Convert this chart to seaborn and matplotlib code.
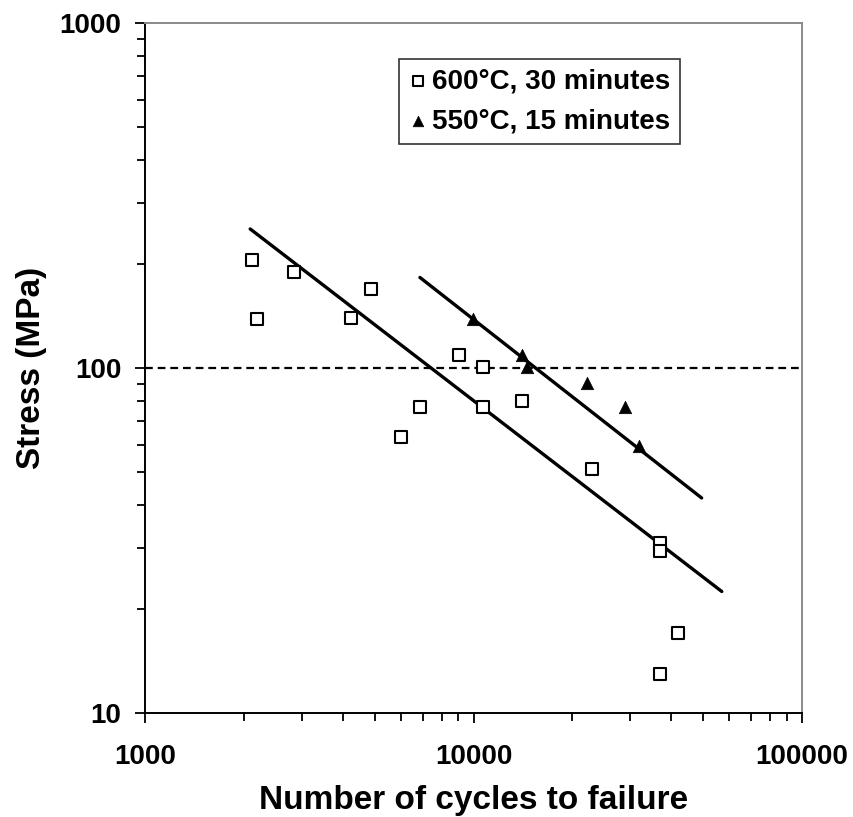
import matplotlib
matplotlib.use('Agg')
import matplotlib.pyplot as plt
import matplotlib.ticker as mticker
import numpy as np
import pandas as pd
import seaborn as sns

# data
sq_cycles = [2110, 2190, 2840, 4230, 4860, 6000, 6870, 9060, 10700, 10700,
             14000, 23000, 37000, 37000, 42000, 37000]
sq_stress = [205, 139, 190, 140, 169, 63, 77, 109, 101, 77,
             80, 51, 31, 29.5, 17, 13]
tri_cycles = [9990, 14000, 14500, 22100, 28900, 32000]
tri_stress = [139, 109, 100.5, 90.6, 77, 59.4]

# trend lines (end points)
fit600_cycles = [2090, 57000]
fit600_stress = [253, 22.5]
fit550_cycles = [6870, 49500]
fit550_stress = [183, 42]

limit_stress = 100
label600 = '600°C, 30 minutes'
label550 = '550°C, 15 minutes'

sns.set_style('white')
plt.rcParams['font.family'] = ['Liberation Sans', 'DejaVu Sans']
plt.rcParams['font.weight'] = 'bold'
plt.rcParams['text.color'] = 'black'
plt.rcParams['axes.labelcolor'] = 'black'
plt.rcParams['xtick.color'] = 'black'
plt.rcParams['ytick.color'] = 'black'

df_sq = pd.DataFrame({'cycles': sq_cycles, 'stress': sq_stress})
df_tri = pd.DataFrame({'cycles': tri_cycles, 'stress': tri_stress})
df_f1 = pd.DataFrame({'cycles': fit600_cycles, 'stress': fit600_stress})
df_f2 = pd.DataFrame({'cycles': fit550_cycles, 'stress': fit550_stress})

fig = plt.figure(figsize=(8.54, 8.17), dpi=100)
ax = fig.add_axes([0.1698, 0.1273, 0.7693, 0.8445])
ax.set_xscale('log')
ax.set_yscale('log')

sns.lineplot(data=df_f1, x='cycles', y='stress', color='black', lw=2.4, ax=ax)
sns.lineplot(data=df_f2, x='cycles', y='stress', color='black', lw=2.4, ax=ax)
ax.axhline(limit_stress, color='black', lw=1.6, ls=(0, (3.5, 2.2)))

sns.scatterplot(data=df_sq, x='cycles', y='stress', marker='s', s=72,
                facecolor='white', edgecolor='black', linewidth=1.5,
                label=label600, ax=ax, zorder=3)
sns.scatterplot(data=df_tri, x='cycles', y='stress', marker='^', s=80,
                color='black', edgecolor='black', linewidth=0.5,
                label=label550, ax=ax, zorder=3)

ax.set_xlim(1000, 100000)
ax.set_ylim(10, 1000)

ax.xaxis.set_major_locator(mticker.LogLocator(base=10, numticks=10))
ax.yaxis.set_major_locator(mticker.LogLocator(base=10, numticks=10))
ax.xaxis.set_minor_locator(mticker.LogLocator(base=10, subs=np.arange(2, 10), numticks=20))
ax.yaxis.set_minor_locator(mticker.LogLocator(base=10, subs=np.arange(2, 10), numticks=20))
ax.xaxis.set_minor_formatter(mticker.NullFormatter())
ax.yaxis.set_minor_formatter(mticker.NullFormatter())
ax.xaxis.set_major_formatter(mticker.FuncFormatter(lambda v, p: '%d' % v))
ax.yaxis.set_major_formatter(mticker.FuncFormatter(lambda v, p: '%d' % v))

ax.tick_params(which='both', direction='out', color='black', width=1.3,
               top=False, right=False, left=True, bottom=True)
ax.tick_params(which='major', length=7, labelsize=20, pad=10, labelcolor='black')
ax.tick_params(which='minor', length=6)
ax.tick_params(axis='x', which='major', pad=15)

for side in ['left', 'bottom']:
    ax.spines[side].set_color('black')
    ax.spines[side].set_linewidth(1.4)
for side in ['top', 'right']:
    ax.spines[side].set_color('#8a8a8a')
    ax.spines[side].set_linewidth(1.4)

ax.set_xlabel('Number of cycles to failure', fontsize=24, fontweight='bold',
              labelpad=11, color='black')
ax.set_ylabel('Stress (MPa)', fontsize=24, fontweight='bold',
              labelpad=9, color='black')

leg = ax.legend(loc='upper left', bbox_to_anchor=(0.386, 0.948), frameon=True,
                fancybox=False, edgecolor='black', fontsize=20, markerscale=0.85,
                handletextpad=0.15, labelspacing=0.5, borderpad=0.35,
                handlelength=0.7, borderaxespad=0)
leg.get_frame().set_linewidth(1.2)
for t in leg.get_texts():
    t.set_fontweight('bold')
    t.set_color('black')

fig.savefig('out.png', dpi=100, facecolor='white')
